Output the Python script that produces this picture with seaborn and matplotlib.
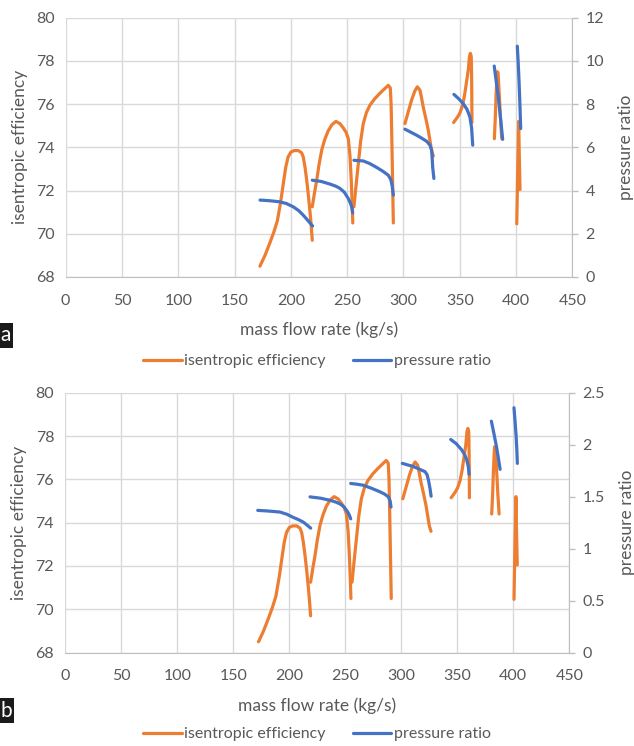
import matplotlib
matplotlib.use("Agg")
import matplotlib.pyplot as plt
from matplotlib.lines import Line2D
import seaborn as sns

# Isentropic efficiency (%) along each speed line, identical in both panels
eff_flow = [
    [172.5, 177, 181.5, 185, 188, 191, 193.5, 195.5, 197.5, 200, 203, 206.5,
     209.5, 211, 212.5, 214, 215.5, 217, 218, 219],
    [219, 221, 223, 225, 227.5, 230, 233, 236.5, 240, 243.5, 246.5, 249, 251,
     252.5, 253.5, 254.3, 255],
    [256, 258, 260, 262, 264.3, 267, 270.2, 274.5, 279, 283, 286.5, 288.3,
     289, 289.5, 290.2, 291],
    [301.3, 304, 307.3, 310, 312.3, 314.6, 316, 317.6, 320, 322, 325, 326.5],
    [344.5, 348, 350.2, 352.5, 354.2, 356.2, 357.6, 358.6, 359.4, 360.2,
     360.5, 360.7, 360.8],
    [380.7, 381.5, 382.3, 383.2, 384, 385, 386.2, 387.3],
    [400.6, 401.3, 402.3, 402.9, 403.5],
]
eff_value = [
    [68.5, 69.0, 69.6, 70.1, 70.6, 71.5, 72.4, 73.1, 73.55, 73.78, 73.85,
     73.85, 73.75, 73.55, 73.1, 72.5, 71.8, 71.0, 70.4, 69.7],
    [71.25, 71.9, 72.5, 73.2, 73.9, 74.35, 74.75, 75.05, 75.2, 75.1, 74.9,
     74.7, 74.4, 73.6, 72.6, 71.6, 70.5],
    [71.25, 72.3, 73.3, 74.3, 75.1, 75.6, 75.95, 76.25, 76.5, 76.7, 76.87,
     76.75, 76.0, 74.8, 72.8, 70.5],
    [75.1, 75.6, 76.2, 76.6, 76.8, 76.65, 76.3, 75.85, 75.3, 74.8, 73.85, 73.6],
    [75.15, 75.4, 75.6, 75.95, 76.4, 77.1, 77.6, 78.2, 78.35, 78.2, 77.3,
     76.2, 75.15],
    [74.4, 75.3, 76.5, 77.5, 77.45, 76.5, 75.3, 74.4],
    [70.46, 72.5, 75.2, 73.5, 72.05],
]

# Total pressure ratio along each speed line, panel a
pr_a_flow = [
    [172.6, 181, 190, 196, 202, 207, 211, 215, 219.3],
    [219, 227, 234.7, 240, 243.6, 247.5, 251, 253, 254, 254.9],
    [256, 264.3, 270, 276.2, 281.5, 286.5, 288.8, 290, 291],
    [301.3, 306.5, 311.7, 316, 320.6, 323.5, 325, 325.5, 325.9, 327],
    [344.8, 349, 353.1, 356.5, 359, 360.5, 361.5],
    [380.6, 382.5, 384.2, 386.2, 388.1],
    [401.1, 401.9, 402.6, 403.4, 404.1],
]
pr_a_value = [
    [3.56, 3.53, 3.48, 3.40, 3.25, 3.07, 2.86, 2.62, 2.36],
    [4.48, 4.42, 4.30, 4.20, 4.10, 3.92, 3.63, 3.40, 3.25, 2.97],
    [5.40, 5.37, 5.25, 5.07, 4.90, 4.71, 4.50, 4.20, 3.79],
    [6.84, 6.70, 6.56, 6.43, 6.28, 6.10, 5.87, 5.50, 5.10, 4.56],
    [8.45, 8.25, 8.02, 7.75, 7.40, 6.90, 6.10],
    [9.76, 9.00, 8.33, 7.35, 6.37],
    [10.68, 9.90, 9.10, 8.00, 6.87],
]

# Stage pressure ratio along each speed line, panel b
pr_b_flow = [
    [171.8, 181, 191.7, 198, 203.6, 208, 212.5, 216, 219.1],
    [218.5, 228, 236.3, 241, 245.3, 248.5, 251.2, 253.3, 254.8],
    [254.8, 260, 266, 273.5, 280.9, 285, 288.4, 290, 290.8],
    [300.9, 305.8, 310.7, 316, 321.2, 323, 324.2, 325.6, 326.6],
    [344.1, 349, 353.9, 356.5, 358.4, 359.8, 360.5],
    [380.4, 382.8, 385.2, 386.8, 388.2],
    [400.6, 401.5, 402.4, 403.1, 403.6],
]
pr_b_value = [
    [1.368, 1.362, 1.352, 1.33, 1.30, 1.28, 1.255, 1.225, 1.197],
    [1.498, 1.485, 1.465, 1.45, 1.43, 1.405, 1.368, 1.33, 1.287],
    [1.627, 1.62, 1.61, 1.58, 1.547, 1.525, 1.498, 1.46, 1.40],
    [1.82, 1.805, 1.79, 1.765, 1.74, 1.71, 1.66, 1.58, 1.504],
    [2.05, 2.01, 1.95, 1.905, 1.853, 1.79, 1.715],
    [2.226, 2.10, 1.967, 1.86, 1.763],
    [2.355, 2.23, 2.096, 1.96, 1.82],
]

x_ticks = [0, 50, 100, 150, 200, 250, 300, 350, 400, 450]
eff_ticks = [68, 70, 72, 74, 76, 78, 80]
pr_a_ticks = [0, 2, 4, 6, 8, 10, 12]
pr_b_ticks = [0, 0.5, 1, 1.5, 2, 2.5]
pr_b_labels = ["0", "0.5", "1", "1.5", "2", "2.5"]

ORANGE = "#ED7D31"
BLUE = "#4472C4"
TEXT = "#595959"
GRID = "#D9D9D9"
AXIS = "#BFBFBF"

sns.set_style("white")
plt.rcParams["font.family"] = ["Lato", "DejaVu Sans"]

fig = plt.figure(figsize=(6.34, 7.46), dpi=100)


def draw_panel(rect, pr_flow, pr_value, pr_ticks, pr_labels, tag, legend_y):
    ax = fig.add_axes(rect)
    ax2 = ax.twinx()
    for xs, ys in zip(eff_flow, eff_value):
        sns.lineplot(x=xs, y=ys, sort=False, ax=ax, color=ORANGE, lw=2.3,
                     estimator=None)
    for xs, ys in zip(pr_flow, pr_value):
        sns.lineplot(x=xs, y=ys, sort=False, ax=ax2, color=BLUE, lw=2.3,
                     estimator=None)

    ax.set_xlim(0, 450)
    ax.set_ylim(68, 80)
    ax.set_xticks(x_ticks)
    ax.set_yticks(eff_ticks)
    ax.grid(True, color=GRID, lw=1.0)
    ax.set_axisbelow(True)
    ax2.set_ylim(pr_ticks[0], pr_ticks[-1])
    ax2.set_yticks(pr_ticks)
    ax2.set_yticklabels(pr_labels)
    ax2.grid(False)

    for a in (ax, ax2):
        for s in ("top", "left"):
            a.spines[s].set_visible(False)
    ax.spines["right"].set_visible(False)
    ax2.spines["bottom"].set_visible(False)
    ax.spines["bottom"].set_color(AXIS)
    ax2.spines["right"].set_color(AXIS)

    ax.tick_params(axis="x", colors=AXIS, length=4, width=1, pad=8,
                   labelcolor=TEXT, labelsize=11.5)
    ax.tick_params(axis="y", length=0, pad=8, labelcolor=TEXT, labelsize=11.5)
    ax2.tick_params(axis="y", colors=AXIS, length=4.5, width=1, pad=5,
                    labelcolor=TEXT, labelsize=11.5)

    ax.set_xlabel("mass flow rate (kg/s)", color=TEXT, fontsize=12.5,
                  labelpad=10)
    ax.set_ylabel("isentropic efficiency", color=TEXT, fontsize=12.5,
                  labelpad=6)
    ax2.set_ylabel("pressure ratio", color=TEXT, fontsize=12.5, labelpad=10)

    handles = [Line2D([], [], color=ORANGE, lw=2.3),
               Line2D([], [], color=BLUE, lw=2.3)]
    fig.legend(handles, ["isentropic efficiency", "pressure ratio"],
               loc="center", bbox_to_anchor=(0.5, legend_y), ncol=2,
               frameon=False, fontsize=11.5, labelcolor=TEXT,
               handlelength=2.4, handletextpad=0.15, columnspacing=1.7)

    fig.text(0.0, rect[1] - 0.078, tag, color="white", fontsize=15,
             ha="left", va="center",
             bbox=dict(boxstyle="square,pad=0.12", fc="#1a1a1a", ec="none"))
    return ax


draw_panel([0.1036, 0.6287, 0.7992, 0.3476], pr_a_flow, pr_a_value,
           pr_a_ticks, [str(t) for t in pr_a_ticks], "a", 1 - 361 / 746)
draw_panel([0.1030, 0.1252, 0.7950, 0.3484], pr_b_flow, pr_b_value,
           pr_b_ticks, pr_b_labels, "b", 1 - 734 / 746)

fig.savefig("out.png", dpi=100)
